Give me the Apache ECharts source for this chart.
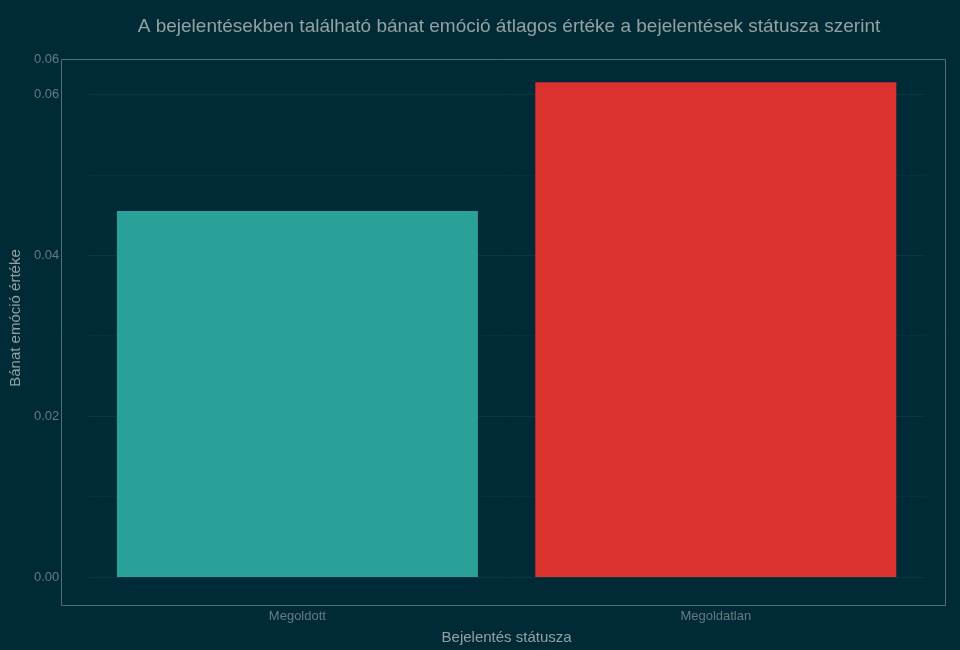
<!DOCTYPE html>
<html><head><meta charset="utf-8">
<script src="https://cdn.jsdelivr.net/npm/echarts@6/dist/echarts.min.js"></script>
<style>html,body{margin:0;background:#002b36}#c{width:960px;height:650px}</style>
</head><body><div id="c"></div>
<script>
const categories = ['Megoldott', 'Megoldatlan']
const values = [0.0455, 0.0615]
const colors = ['#2aa198', '#dc322f']

const chart = echarts.init(document.getElementById('c'))
chart.setOption({
  backgroundColor: '#002b36',
  textStyle: { fontFamily: 'Liberation Sans' },
  title: {
    text: 'A bejelentésekben található bánat emóció átlagos értéke a bejelentések státusza szerint',
    left: 504, top: 12, textAlign: 'center',
    textStyle: { color: '#93a1a1', fontSize: 19, fontWeight: 'normal' }
  },
  graphic: [{
    type: 'rect', shape: { x: 61.5, y: 59.5, width: 884, height: 546 },
    style: { fill: 'none', stroke: '#586e75', lineWidth: 1 }, z: 10
  }],
  grid: { left: 81, right: 35, top: 59, bottom: 70 },
  xAxis: {
    type: 'category', data: categories,
    name: 'Bejelentés státusza', nameLocation: 'middle', nameGap: 53,
    nameTextStyle: { color: '#93a1a1', fontSize: 15 },
    axisLine: { show: false }, axisTick: { show: false },
    axisLabel: { color: '#657b83', fontSize: 13, margin: 33 }
  },
  yAxis: {
    type: 'value', min: 0, max: 0.0644, interval: 0.02,
    name: 'Bánat emóció értéke', nameLocation: 'middle', nameGap: 62,
    nameTextStyle: { color: '#93a1a1', fontSize: 15 },
    axisLabel: { color: '#657b83', fontSize: 13, margin: 29, formatter: v => v.toFixed(2) },
    axisLine: { show: false }, axisTick: { show: false },
    splitLine: { lineStyle: { color: '#0d3540', width: 1 } },
    minorTick: { show: false, splitNumber: 2 },
    minorSplitLine: { show: true, lineStyle: { color: '#06313c' } }
  },
  series: [{
    type: 'bar', barWidth: 361,
    data: values.map((v, i) => ({ value: v, itemStyle: { color: colors[i] } }))
  }]
})
</script></body></html>
